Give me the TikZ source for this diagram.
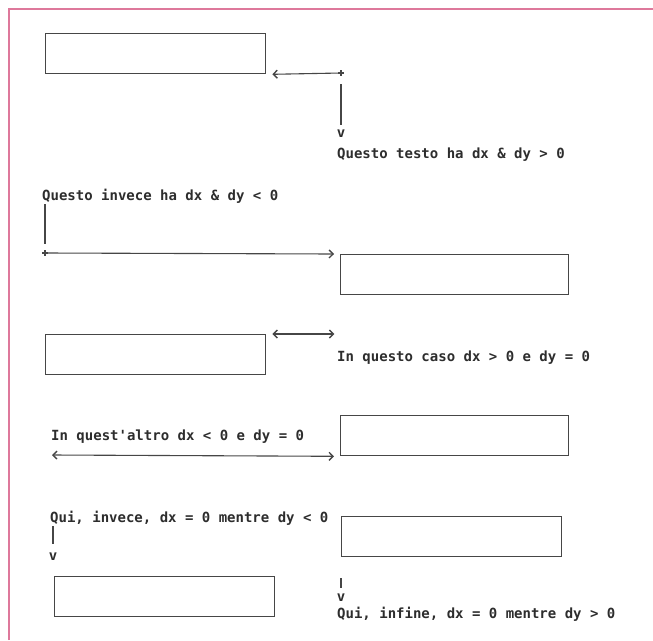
\documentclass[tikz,border=0pt]{standalone}
\usepackage{fontspec}
\setmonofont{DejaVu Sans Mono}
\usetikzlibrary{arrows.meta,calc}
\definecolor{framepink}{RGB}{222,120,155}
\definecolor{ink}{RGB}{70,70,70}
\definecolor{txt}{RGB}{45,45,45}
\tikzset{
  boxnode/.style={draw=ink,line width=1.3pt,minimum width=220pt,minimum height=40pt,inner sep=0pt,anchor=north west},
  lbl/.style={anchor=west,inner sep=0pt,text height=10pt,text depth=0pt,text=txt,font=\fontsize{14}{14}\selectfont\ttfamily\bfseries},
  vmark/.style={inner sep=0pt,text height=7pt,text depth=0pt,text=txt,font=\fontsize{14}{14}\selectfont\ttfamily\bfseries},
  conn/.style={draw=ink,line width=1.1pt},
  tip/.tip={Straight Barb[length=4pt,width=8pt,line width=1.4pt]},
}
\newcommand{\plusmark}[1]{\draw[ink,line width=1.2pt] ($(#1)+(-3,0)$) -- ($(#1)+(3,0)$) ($(#1)+(0,-3)$) -- ($(#1)+(0,3)$);}
\begin{document}
\begin{tikzpicture}[x=1pt,y=-1pt]
\useasboundingbox (0,0) rectangle (653,640);
% frame
\draw[framepink,line width=2pt] (9,640) -- (9,9) -- (653,9);

% 1
\node[boxnode] (b1) at (45,33) {};
\coordinate (c1) at (341,73);
\draw[conn,tip-] ($(b1.south east)+(6,0)$) -- (c1);
\plusmark{c1}
\coordinate (c1v) at (341,84);
\node[vmark] (v1) at (341,134) {v};
\draw[conn] (c1v) -- (341,125);
\node[lbl] (t1) at (337,153) {Questo testo ha dx \& dy > 0};

% 2
\node[lbl] (t2) at (42,195) {Questo invece ha dx \& dy < 0};
\coordinate (c2) at (45,253);
\draw[conn] (45,204) -- (45,244);
\plusmark{c2}
\node[boxnode,minimum width=228pt] (b2) at (340,254) {};
\draw[conn,-tip] (c2) -- ($(b2.north west)+(-6,0)$);

% 3
\node[boxnode] (b3) at (45,334) {};
\draw[conn,tip-tip] ($(b3.north east)+(6,0)$) -- ($(b3.north east)+(68,0)$);
\node[lbl] (t3) at (337,356) {In questo caso dx > 0 e dy = 0};

% 4
\node[lbl] (t4) at (51,435) {In quest'altro dx < 0 e dy = 0};
\node[boxnode,minimum width=228pt] (b4) at (340,415) {};
\draw[conn,tip-tip] (52,455) -- ($(b4.south west)+(-6,0)$);

% 5
\node[lbl] (t5) at (50,517) {Qui, invece, dx = 0 mentre dy < 0};
\draw[conn] (53,526) -- (53,544);
\node[vmark] (v5) at (53,557) {v};
\node[boxnode] (b5) at (54,576) {};

% 6
\node[boxnode] (b6) at (341,516) {};
\draw[conn] ($(b6.south west)+(0,21)$) -- ($(b6.south west)+(0,31)$);
\node[vmark] (v6) at (341,598) {v};
\node[lbl] (t6) at (337,613) {Qui, infine, dx = 0 mentre dy > 0};
\end{tikzpicture}
\end{document}
